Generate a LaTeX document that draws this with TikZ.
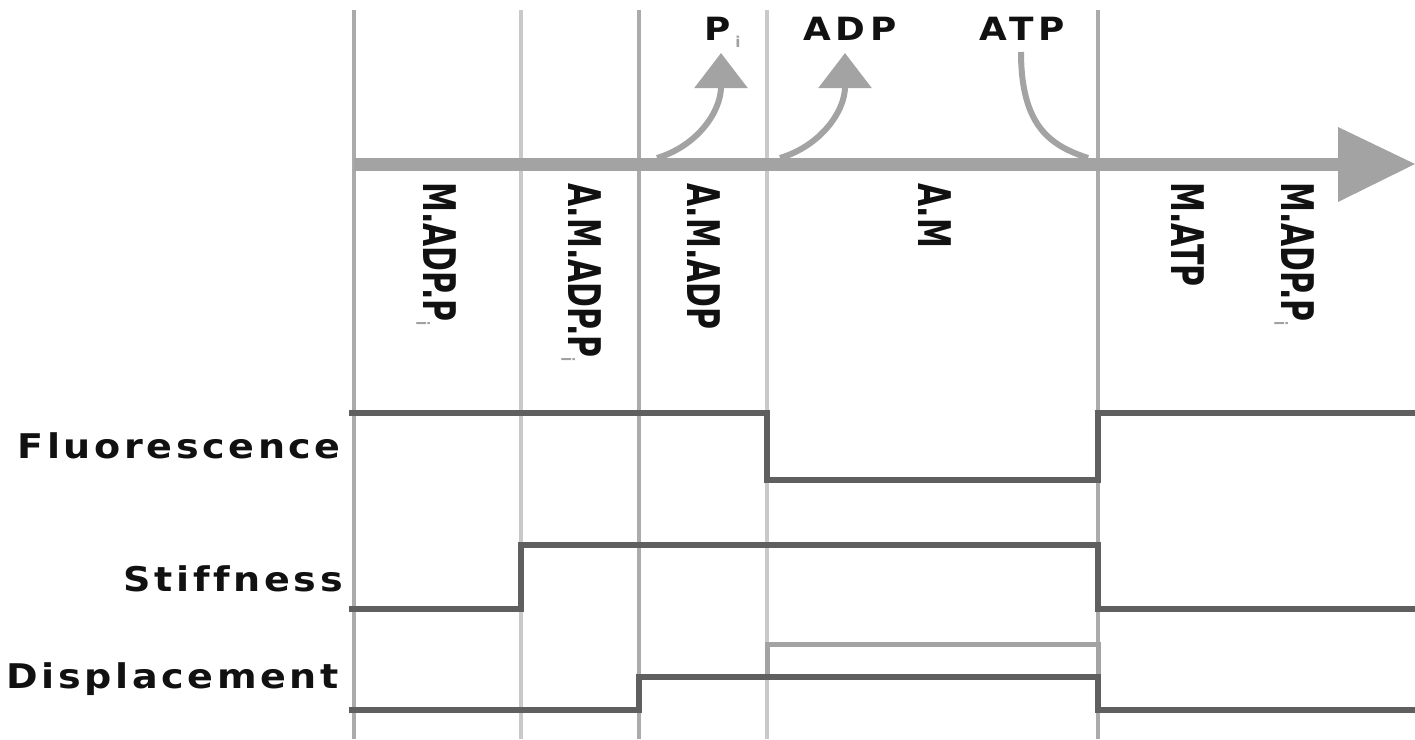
\documentclass[tikz,border=0pt]{standalone}
\usepackage{fontspec}
\usetikzlibrary{arrows.meta}
% label fonts
\newfontfamily\sidefont{DejaVu Sans Bold}[LetterSpace=9.5,Ligatures=NoCommon]
\newfontfamily\topfont{DejaVu Sans Bold}[LetterSpace=14]
\newfontfamily\stagefont{DejaVu Sans Bold}
\newfontfamily\subfont{DejaVu Sans Bold}
\definecolor{axisgray}{HTML}{A3A3A3}
\definecolor{griddark}{HTML}{ABABAB}
\definecolor{gridlight}{HTML}{C9C9C9}
\definecolor{sigdark}{HTML}{5F5F5F}
\definecolor{sigalt}{HTML}{A3A3A3}
\definecolor{inkblack}{HTML}{111111}
\definecolor{subgray}{HTML}{A0A0A0}
% small index "i" of inorganic phosphate
\newcommand{\subidx}[2]{\raisebox{-#2}{\subfont\fontsize{#1}{#1}\selectfont\color{subgray}i}}
% broad lettering of the horizontal labels
\newcommand{\wide}[1]{\scalebox{1.12}[1]{#1}}
\begin{document}
\begin{tikzpicture}[x=1pt,y=-1pt,
  gridline/.style={line width=4pt},
  axisline/.style={axisgray,line width=13pt},
  release/.style={axisgray,line width=6pt,-{Triangle[width=52pt,length=35pt]}},
  uptake/.style={axisgray,line width=6pt},
  signal/.style={sigdark,line width=5.5pt},
  altsignal/.style={sigalt,line width=5pt},
  sidelabel/.style={inner sep=0pt,anchor=base east,text=inkblack,font=\sidefont\fontsize{34}{40}\selectfont},
  toplabel/.style={inner sep=0pt,anchor=base west,text=inkblack,font=\topfont\fontsize{32}{38}\selectfont},
  stagelabel/.style={inner sep=0pt,anchor=base west,rotate=-90,text=inkblack,font=\stagefont\fontsize{30}{36}\selectfont}]
\useasboundingbox (0,0) rectangle (1415,739);

% time grid
\foreach \x/\c [count=\i] in {354/griddark,521/gridlight,639/griddark,767/gridlight,1098/griddark}{
  \coordinate (gt\i) at (\x,10);
  \coordinate (gb\i) at (\x,739);
  \draw[gridline,\c] (gt\i) -- (gb\i);
}

% time axis
\coordinate (a0) at (354,164);
\coordinate (a1) at (1338,164);
\draw[axisline] (a0) -- (a1);
\fill[axisgray] (1338,127) -- (1415,164) -- (1338,202) -- cycle;

% products released and ATP taken up
\coordinate (pi0) at (657,158);
\coordinate (pi1) at (721,53);
\coordinate (adp0) at (780,158);
\coordinate (adp1) at (845,53);
\coordinate (atp0) at (1021,52);
\coordinate (atp1) at (1088,158);
\draw[release] (pi0) .. controls (697,146) and (721,112) .. (pi1);
\draw[release] (adp0) .. controls (820,146) and (845,112) .. (adp1);
\draw[uptake] (atp0) .. controls (1021,128) and (1052,146) .. (atp1);

\node[toplabel] (tpi) at (704,40) {\wide{P}\hspace{5pt}\subidx{15pt}{7pt}};
\node[toplabel] (tadp) at (803,40) {\wide{ADP}};
\node[toplabel] (tatp) at (979,40) {\wide{ATP}};

% states
\node[stagelabel] (s1) at (423,182) {\scalebox{1}[1.5]{M.ADP.P\subidx{12pt}{4.5pt}}};
\node[stagelabel] (s2) at (568,183) {\scalebox{1}[1.5]{A.M.ADP.P\subidx{12pt}{4.5pt}}};
\node[stagelabel] (s3) at (687,183) {\scalebox{1}[1.5]{A.M.ADP}};
\node[stagelabel] (s4) at (918,183) {\scalebox{1}[1.5]{A.M}};
\node[stagelabel] (s5) at (1171,182) {\scalebox{1}[1.5]{M.ATP}};
\node[stagelabel] (s6) at (1281,182) {\scalebox{1}[1.5]{M.ADP.P\subidx{12pt}{4.5pt}}};

% signal traces
\node[sidelabel] (lf) at (341,458) {\wide{Fluorescence}};
\node[sidelabel] (ls) at (343,591) {\wide{Stiffness}};
\node[sidelabel] (ld) at (339,688) {\wide{Displacement}};

\draw[signal] (349,413) -- (767,413) -- (767,480) -- (1098,480) -- (1098,413) -- (1415,413);
\draw[signal] (349,609) -- (521,609) -- (521,545) -- (1098,545) -- (1098,609) -- (1415,609);
\draw[altsignal] (767,677) -- (767,644) -- (1098,644) -- (1098,677);
\draw[signal] (349,710) -- (639,710) -- (639,677) -- (1098,677) -- (1098,710) -- (1415,710);
\end{tikzpicture}
\end{document}
